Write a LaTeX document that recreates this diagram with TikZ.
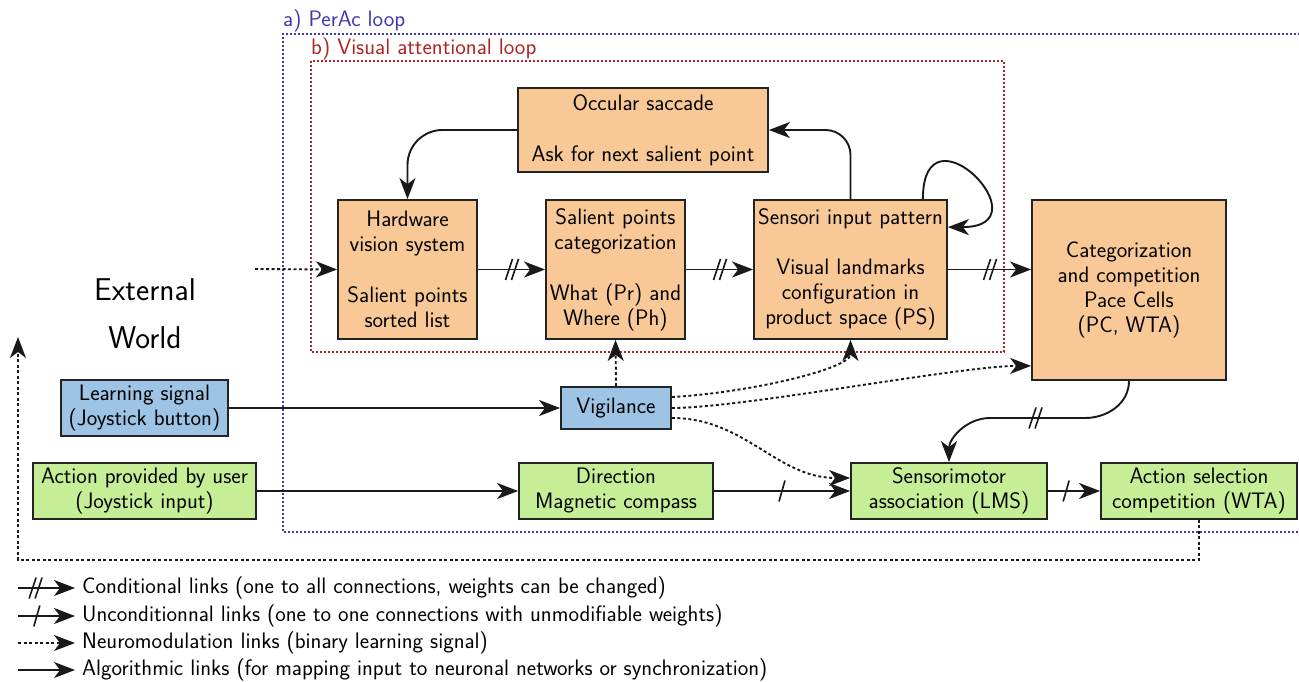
\documentclass[tikz,border=0pt]{standalone}
\usetikzlibrary{arrows.meta,decorations.markings,calc}

\definecolor{boxorange}{RGB}{249,200,151}
\definecolor{boxblue}{RGB}{157,195,229}
\definecolor{boxgreen}{RGB}{198,238,150}
\definecolor{edgegray}{RGB}{35,35,35}
\definecolor{perac}{RGB}{64,56,176}
\definecolor{visloop}{RGB}{172,36,36}

\newcommand\txtfont{\sffamily\fontsize{22.4}{25}\selectfont}
\newcommand\bigtxtfont{\sffamily\fontsize{31.5}{48}\selectfont}

\tikzset{
  blk/.style={draw=edgegray, line width=1.8pt, align=center, inner sep=0pt, font=\txtfont},
  obox/.style={blk, fill=boxorange},
  bbox/.style={blk, fill=boxblue},
  gbox/.style={blk, fill=boxgreen},
  link/.style={draw=black!90, line width=1.9pt, -{Stealth[length=21pt,width=16pt,inset=6pt]}},
  nmod/.style={link, dash pattern=on 3pt off 2.5pt},
  cond/.style={postaction={decorate, decoration={markings,
      mark=at position #1 with {\draw[solid, line width=1.6pt, -]
        (-6pt,-10.5pt) -- (1pt,10.5pt) (0pt,-10.5pt) -- (7pt,10.5pt);}}}},
  cond/.default=0.5,
  uncond/.style={postaction={decorate, decoration={markings,
      mark=at position #1 with {\draw[solid, line width=1.6pt, -]
        (-3pt,-10.5pt) -- (3pt,10.5pt);}}}},
  uncond/.default=0.5,
  looplabel/.style={anchor=base west, inner sep=0pt, font=\txtfont},
  legendtxt/.style={anchor=west, inner sep=0pt, font=\txtfont},
}

\begin{document}
\begin{tikzpicture}[x=1pt, y=1pt]
\useasboundingbox (0,0) rectangle (1299,-682);
\clip (0,0) rectangle (1299,-682);

% loop frames
\draw[perac, line width=1.4pt, dash pattern=on 2pt off 2pt] (1320,-34) -- (283,-34) -- (283,-532) -- (1320,-532);
\node[looplabel, text=perac] (lblA) at (283,-27) {a) PerAc loop};
\draw[visloop, line width=1.4pt, dash pattern=on 2pt off 2pt] (311,-61) rectangle (1004,-352);
\node[looplabel, text=visloop] (lblB) at (311,-55) {b) Visual attentional loop};

% blocks
\node[obox, minimum width=250pt, minimum height=84pt] (occ) at (643,-130)
  {Occular saccade\\[26pt]Ask for next salient point};
\node[obox, minimum width=139pt, minimum height=139pt] (hw) at (407.5,-269.5)
  {Hardware\\vision system\\[26pt]Salient points\\sorted list};
\node[obox, minimum width=139pt, minimum height=139pt] (spc) at (615.5,-269.5)
  {Salient points\\categorization\\[26pt]What (Pr) and\\Where (Ph)};
\node[obox, minimum width=193pt, minimum height=139pt] (sip) at (850.5,-269.5)
  {Sensori input pattern\\[25pt]Visual landmarks\\configuration in\\product space (PS)};
\node[obox, minimum width=194pt, minimum height=180pt] (cat) at (1129,-290)
  {Categorization\\and competition\\Pace Cells\\(PC, WTA)};
\node[bbox, minimum width=167pt, minimum height=56pt] (ls) at (144.5,-408)
  {Learning signal\\(Joystick button)};
\node[bbox, minimum width=110pt, minimum height=42pt] (vig) at (616,-408) {Vigilance};
\node[gbox, minimum width=223pt, minimum height=56pt] (apu) at (144.5,-491)
  {Action provided by user\\(Joystick input)};
\node[gbox, minimum width=194pt, minimum height=56pt] (dir) at (616,-491)
  {Direction\\Magnetic compass};
\node[gbox, minimum width=196pt, minimum height=56pt] (sma) at (949,-491)
  {Sensorimotor\\association (LMS)};
\node[gbox, minimum width=196pt, minimum height=56pt] (asc) at (1199,-491)
  {Action selection\\competition (WTA)};
\node[align=center, inner sep=0pt, font=\bigtxtfont] (ext) at (145,-314) {External\\World};

% helper points
\coordinate (camIn) at (255,-269);
\coordinate (selfA) at ($(sip.north east)+(-25,0)$);
\coordinate (selfB) at ($(sip.north east)+(0,-28)$);
\coordinate (vigHi) at ($(vig.east)+(0,11)$);
\coordinate (vigLo) at ($(vig.east)+(0,-10)$);
\coordinate (catIn) at ($(cat.south west)+(0,15)$);
\coordinate (smaIn) at ($(sma.west)+(0,13)$);
\coordinate (bendR) at (1085,-418);
\coordinate (bendL) at (990,-418);
\coordinate (fbCorner) at (18,-560);
\coordinate (fbEnd) at (18,-337);

% visual attentional loop
\draw[link, rounded corners=35pt] (occ.west) -| (hw.north);
\draw[link, rounded corners=25pt] (sip.north) |- (occ.east);
\draw[link] (selfA) to[out=90, in=0, looseness=6.8] (selfB);
\draw[nmod] (camIn) -- (hw.west);
\draw[link, cond] (hw.east) -- (spc.west);
\draw[link, cond] (spc.east) -- (sip.west);
\draw[link, cond] (sip.east) -- (sip.east -| cat.west);

% learning signal and vigilance
\draw[link] (ls.east) -- (vig.west);
\draw[nmod] (vig.north) -- (spc.south);
\draw[nmod] (vigHi) to[out=3, in=-90, in looseness=0.4] (sip.south);
\draw[nmod] (vig.east) to[out=0, in=180, looseness=0.5] (catIn);
\draw[nmod] (vigLo) to[out=0, in=180] (smaIn);

% categorization to sensorimotor association
\draw[link, cond] (cat.south) to[out=-90, in=0] (bendR) -- (bendL) to[out=180, in=90] (sma.north);

% action pathway
\draw[link] (apu.east) -- (dir.west);
\draw[link, uncond] (dir.east) -- (sma.west);
\draw[link, uncond=0.35] (sma.east) -- (asc.west);
\draw[nmod] (asc.south) |- (fbCorner) -- (fbEnd);

% legend
\foreach \i/\y in {1/588, 2/616, 3/643, 4/670} {
  \coordinate (lg\i a) at (18,-\y);
  \coordinate (lg\i b) at (75,-\y);
}
\draw[link, cond=0.3] (lg1a) -- (lg1b);
\node[legendtxt] (lt1) at ($(lg1b)+(7,0)$) {Conditional links (one to all connections, weights can be changed)};
\draw[link, uncond=0.33] (lg2a) -- (lg2b);
\node[legendtxt] (lt2) at ($(lg2b)+(7,0)$) {Unconditionnal links (one to one connections with unmodifiable weights)};
\draw[nmod] (lg3a) -- (lg3b);
\node[legendtxt] (lt3) at ($(lg3b)+(7,0)$) {Neuromodulation links (binary learning signal)};
\draw[link] (lg4a) -- (lg4b);
\node[legendtxt] (lt4) at ($(lg4b)+(7,0)$) {Algorithmic links (for mapping input to neuronal networks or synchronization)};
\end{tikzpicture}
\end{document}
